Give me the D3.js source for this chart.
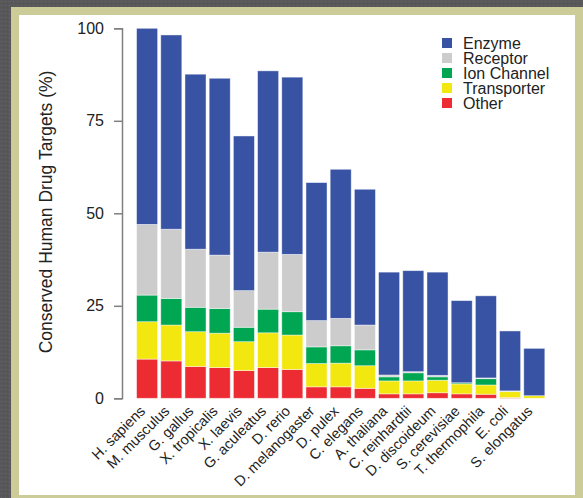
<!DOCTYPE html>
<html>
<head>
<meta charset="utf-8">
<script src="https://cdn.jsdelivr.net/npm/d3@7"></script>
<style>
  html, body { margin: 0; padding: 0; background: #58585a; }
  svg { display: block; font-family: "Liberation Sans", Arial, Helvetica, sans-serif; }
</style>
</head>
<body>
<div id="chart"></div>
<script>
// species on the x axis
var species = ["H. sapiens", "M. musculus", "G. gallus", "X. tropicalis", "X. laevis",
    "G. aculeatus", "D. rerio", "D. melanogaster", "D. pulex", "C. elegans", "A. thaliana",
    "C. reinhardtii", "D. discoideum", "S. cerevisiae", "T. thermophila", "E. coli", "S. elongatus"];

// segment heights (%), bottom to top: other, transporter, ion channel, receptor, enzyme
var other       = [10.6, 10.1, 8.6, 8.3, 7.5, 8.3, 7.8, 3.1, 3.1, 2.7, 1.2, 1.2, 1.5, 1.2, 1.1, 0.2, 0];
var transporter = [10.1, 9.7, 9.4, 9.3, 7.8, 9.4, 9.3, 6.3, 6.4, 6.1, 3.5, 3.5, 3.4, 2.7, 2.5, 1.6, 0.7];
var ionChannel  = [7.2, 7.2, 6.6, 6.7, 3.9, 6.4, 6.3, 4.5, 4.7, 4.3, 1.1, 2.2, 0.9, 0.3, 1.7, 0.1, 0];
var receptor    = [19.1, 18.7, 15.7, 14.4, 9.9, 15.4, 15.5, 7.1, 7.4, 6.7, 0.5, 0.3, 0.4, 0, 0.2, 0.1, 0];
var enzyme      = [53.0, 52.5, 47.3, 47.8, 41.8, 49.0, 47.9, 37.3, 40.3, 36.7, 27.8, 27.3, 27.9, 22.2, 22.2, 16.2, 12.8];

var yTicks = [0, 25, 50, 75, 100];
var legendLabels = ["Enzyme", "Receptor", "Ion Channel", "Transporter", "Other"];

var W = 583, H = 498;

var svg = d3.select("#chart").append("svg").attr("width", W).attr("height", H);

/***************************
 * Background + frame
 ***************************/
var defs = svg.append("defs");
var pat = defs.append("pattern").attr("id", "dots").attr("width", 4).attr("height", 4)
    .attr("patternUnits", "userSpaceOnUse");
pat.append("rect").attr("width", 4).attr("height", 4).attr("fill", "#58585a");
pat.append("rect").attr("x", 1).attr("y", 1).attr("width", 1).attr("height", 1).attr("fill", "#646466");
pat.append("rect").attr("x", 3).attr("y", 3).attr("width", 1).attr("height", 1).attr("fill", "#505052");

svg.append("rect").attr("width", W).attr("height", H).attr("fill", "url(#dots)");
svg.append("rect").attr("x", 11).attr("y", 7).attr("width", W - 11).attr("height", H - 7).attr("fill", "#cccc99");
svg.append("rect").attr("x", 19).attr("y", 15).attr("width", 556).attr("height", 480).attr("fill", "#ffffff");

/***************************
 * Scales
 ***************************/
var x = d3.scaleBand().domain(species).range([135, 546.4]).paddingInner(0.13).paddingOuter(0.065);
var y = d3.scaleLinear().domain([0, 100]).range([398.3, 28.3]);

var keys = ["other", "transporter", "ionChannel", "receptor", "enzyme"];
var colors = {
    enzyme: "#3953a4",
    receptor: "#cccccc",
    ionChannel: "#00a651",
    transporter: "#f2e70f",
    other: "#ed2b33"
};

var rows = species.map(function(s, i) {
    return { name: s, other: other[i], transporter: transporter[i], ionChannel: ionChannel[i],
        receptor: receptor[i], enzyme: enzyme[i] };
});
var stacked = d3.stack().keys(keys)(rows);

/***************************
 * Bars
 ***************************/
var g = svg.append("g");
g.selectAll("g.layer").data(stacked).enter().append("g")
    .attr("class", "layer")
    .attr("fill", function(d) { return colors[d.key]; })
    .selectAll("rect").data(function(d) { return d; }).enter().append("rect")
    .attr("x", function(d) { return x(d.data.name); })
    .attr("width", x.bandwidth())
    .attr("y", function(d) { return y(d[1]); })
    .attr("height", function(d) { return Math.max(0, y(d[0]) - y(d[1])); })
    .attr("stroke", "#ffffff").attr("stroke-opacity", 0.55).attr("stroke-width", 0.8);

/***************************
 * Y axis
 ***************************/
var yAxis = svg.append("g").attr("transform", "translate(122,0)")
    .call(d3.axisLeft(y).tickValues(yTicks).tickSize(8).tickPadding(10));
yAxis.select(".domain").attr("stroke", "#808080").attr("stroke-width", 1.5);
yAxis.selectAll(".tick line").attr("stroke", "#808080").attr("stroke-width", 1.5);
yAxis.selectAll(".tick text").attr("fill", "#222").style("font-size", "16px")
    .style("font-family", "'Liberation Sans', Arial, sans-serif");

svg.append("text")
    .attr("transform", "translate(52,212) rotate(-90)")
    .attr("text-anchor", "middle")
    .attr("fill", "#222")
    .style("font-size", "17.5px")
    .text("Conserved Human Drug Targets (%)");

/***************************
 * X labels
 ***************************/
svg.append("g").selectAll("text").data(species).enter().append("text")
    .attr("transform", function(d) {
        return "translate(" + (x(d) + x.bandwidth() / 2 - 1) + ",412) rotate(-45)";
    })
    .attr("text-anchor", "end")
    .attr("fill", "#222")
    .style("font-size", "14.5px")
    .text(function(d) { return d; });

/***************************
 * Legend
 ***************************/
var legendKeys = ["enzyme", "receptor", "ionChannel", "transporter", "other"];
var lg = svg.append("g").selectAll("g").data(legendKeys).enter().append("g")
    .attr("transform", function(d, i) { return "translate(442," + (38 + i * 15) + ")"; });
lg.append("rect").attr("width", 10).attr("height", 10)
    .attr("fill", function(d) { return colors[d]; });
lg.append("text").attr("x", 21).attr("y", 11)
    .attr("fill", "#222")
    .style("font-size", "16px")
    .text(function(d, i) { return legendLabels[i]; });
</script>
</body>
</html>
